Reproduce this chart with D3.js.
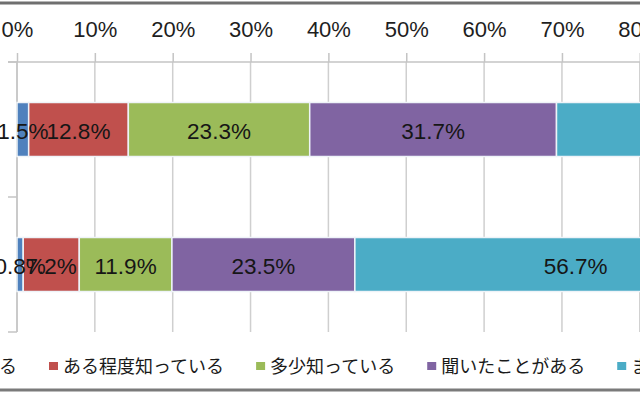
<!DOCTYPE html>
<meta charset="utf-8">
<html>
<head>
  <script src="https://d3js.org/d3.v7.min.js"></script>
  <style>
    body {
      margin: 0;
      background: #fff;
    }

    .tick-label {
      font-family: "Liberation Sans", Arial, sans-serif;
      font-size: 22px;
      fill: #1e1e1e;
    }

    .bar-label {
      font-family: "Liberation Sans", Arial, sans-serif;
      font-size: 22.5px;
      fill: #161616;
    }

    .legend-text {
      font-family: "Noto Sans CJK JP", sans-serif;
      font-size: 18px;
      fill: #1a1a1a;
    }
  </style>
</head>

<body>
  <script>
    // series (legend order = stacking order)
    var series = ["よく知っている", "ある程度知っている", "多少知っている", "聞いたことがある", "まったく知らない"];
    var series_color = ["#4f81bd", "#c0504d", "#9bbb59", "#8064a2", "#4bacc6"];

    // two rows, top to bottom (row names are outside the visible crop)
    var categories = ["上段", "下段"];
    var values_top = [1.5, 12.8, 23.3, 31.7, 30.7];
    var values_bottom = [0.8, 7.2, 11.9, 23.5, 56.7];

    // only the ticks that reach into the visible crop
    var x_ticks = [0, 10, 20, 30, 40, 50, 60, 70, 80];

    var width = 640,
      height = 400;

    var svg = d3.select("body")
      .append("svg")
      .attr("width", width)
      .attr("height", height);

    var x = d3.scaleLinear()
      .domain([0, 100])
      .range([17, 795.5]);

    var y = d3.scaleBand()
      .domain(categories)
      .range([62, 332])
      .paddingInner(0.6)
      .paddingOuter(0.3);

    // frame lines (chart border, cropped)
    svg.append("line")
      .attr("x1", 0).attr("x2", width)
      .attr("y1", 3).attr("y2", 3)
      .style("stroke", "#6f6f6f")
      .style("stroke-width", 3);
    svg.append("line")
      .attr("x1", 0).attr("x2", width)
      .attr("y1", 390).attr("y2", 390)
      .style("stroke", "#7a7a7a")
      .style("stroke-width", 3);

    // vertical gridlines
    svg.selectAll(".grid")
      .data(x_ticks)
      .enter()
      .append("line")
      .attr("class", "grid")
      .attr("x1", function (d) { return x(d); })
      .attr("x2", function (d) { return x(d); })
      .attr("y1", 62)
      .attr("y2", 332)
      .style("stroke", "#cfcfcf")
      .style("stroke-width", 1.5);

    // top axis
    var xAxis = d3.axisTop(x)
      .tickValues(x_ticks)
      .tickFormat(function (d) { return d + "%"; })
      .tickSize(9)
      .tickPadding(16);

    var gx = svg.append("g")
      .attr("transform", "translate(0,62)")
      .call(xAxis);
    gx.select(".domain").remove();
    gx.selectAll(".tick line")
      .style("stroke", "#c4c4c4")
      .style("stroke-width", 1.5);
    gx.selectAll(".tick text")
      .attr("class", "tick-label")
      .attr("font-family", null)
      .attr("font-size", null)
      .attr("fill", null);

    svg.append("line")
      .attr("x1", 8).attr("x2", width)
      .attr("y1", 62).attr("y2", 62)
      .style("stroke", "#c4c4c4")
      .style("stroke-width", 1.5);

    // left axis with ticks at the row boundaries
    var half_gap = (y.step() - y.bandwidth()) / 2;
    var boundaries = categories.map(function (c) { return y(c) - half_gap; });
    boundaries.push(y.range()[1]);

    svg.append("line")
      .attr("x1", x(0)).attr("x2", x(0))
      .attr("y1", y.range()[0]).attr("y2", y.range()[1])
      .style("stroke", "#c4c4c4")
      .style("stroke-width", 1.5);

    svg.selectAll(".ytick")
      .data(boundaries)
      .enter()
      .append("line")
      .attr("class", "ytick")
      .attr("x1", 8)
      .attr("x2", x(0))
      .attr("y1", function (d) { return d; })
      .attr("y2", function (d) { return d; })
      .style("stroke", "#c4c4c4")
      .style("stroke-width", 1.5);

    // stacked bars
    var rows = [values_top, values_bottom];
    var segments = [];
    rows.forEach(function (vals, r) {
      var start = 0;
      vals.forEach(function (v, i) {
        segments.push({ cat: categories[r], i: i, x0: start, x1: start + v, v: v });
        start += v;
      });
    });

    svg.selectAll(".seg")
      .data(segments)
      .enter()
      .append("rect")
      .attr("class", "seg")
      .attr("x", function (d) { return x(d.x0); })
      .attr("y", function (d) { return y(d.cat); })
      .attr("width", function (d) { return x(d.x1) - x(d.x0); })
      .attr("height", y.bandwidth())
      .style("fill", function (d) { return series_color[d.i]; })
      .style("stroke", "#eef3f8")
      .style("stroke-width", 1.5);

    svg.selectAll(".bar-label")
      .data(segments)
      .enter()
      .append("text")
      .attr("class", "bar-label")
      .attr("x", function (d) { return x((d.x0 + d.x1) / 2); })
      .attr("y", function (d) { return y(d.cat) + y.bandwidth() / 2; })
      .attr("dy", "0.4em")
      .attr("text-anchor", "middle")
      .text(function (d) { return d.v.toFixed(1) + "%"; });

    // legend, laid out left to right; second item starts at x=49
    var legend = svg.append("g");
    var lx = 49;
    var gap = 32;
    var items = [];
    series.forEach(function (s, i) {
      var g = legend.append("g");
      g.append("rect")
        .attr("x", 0)
        .attr("y", 362)
        .attr("width", 9)
        .attr("height", 8)
        .style("fill", series_color[i]);
      var t = g.append("text")
        .attr("class", "legend-text")
        .attr("x", 14)
        .attr("y", 365)
        .attr("dominant-baseline", "central")
        .text(s);
      items.push({ g: g, w: 14 + t.node().getComputedTextLength() });
    });

    var pos = lx - items[0].w - gap;
    items.forEach(function (it) {
      it.g.attr("transform", "translate(" + pos + ",0)");
      pos += it.w + gap;
    });
  </script>
</body>

</html>
